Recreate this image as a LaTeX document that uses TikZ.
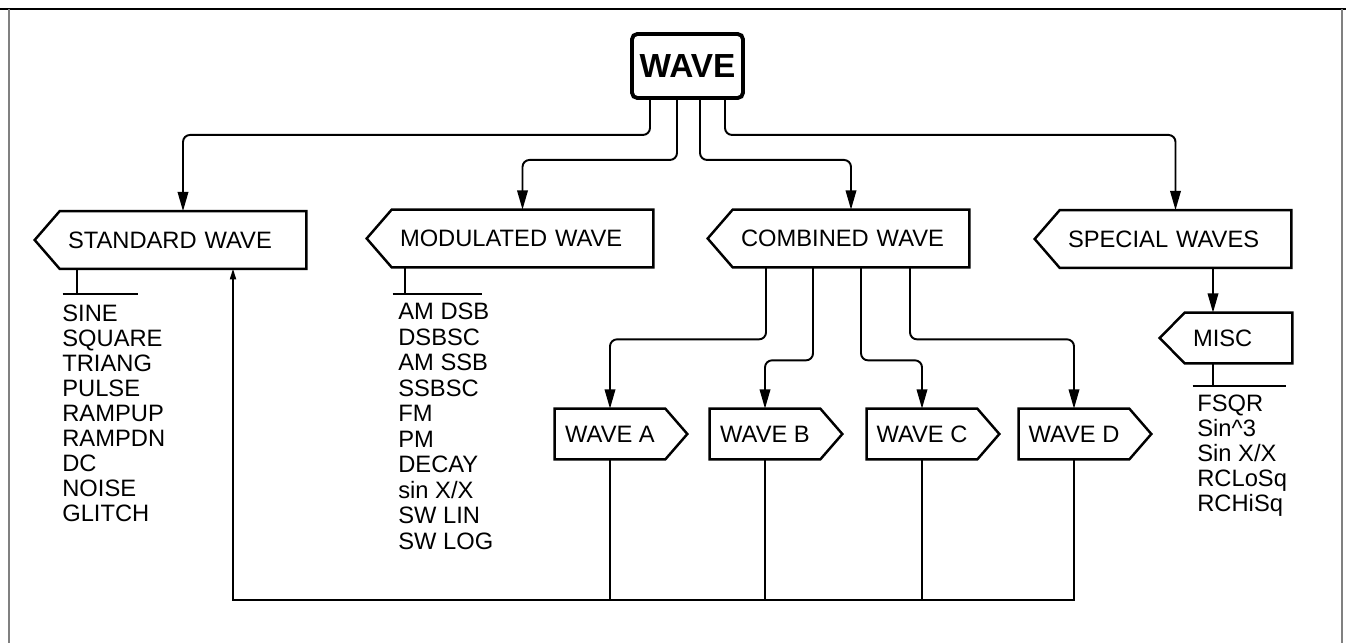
\documentclass[tikz,border=0pt]{standalone}
\usepackage{fontspec}
\setmainfont{Liberation Sans}
\usetikzlibrary{positioning,arrows.meta}

% outline with the point on the left / right side of a body node
\newcommand{\leftpoint}[1]{\draw[line width=1.4pt] (#1.north west) -- (#1.north east) -- (#1.south east) -- (#1.south west) -- ([xshift=-0.5cm]#1.west) -- cycle;}
\newcommand{\rightpoint}[1]{\draw[line width=1.4pt] (#1.north east) -- (#1.north west) -- (#1.south west) -- (#1.south east) -- ([xshift=0.44cm]#1.east) -- cycle;}

\begin{document}
\begin{tikzpicture}[x=0.02cm, y=-0.02cm,
  lbox/.style={inner xsep=0.16cm, inner ysep=0pt, align=left, text width=#1, minimum height=1.14cm, font=\fontsize{13.5}{14.2}\selectfont},
  rbox/.style={inner sep=0pt, minimum width=2.2cm, minimum height=1cm, font=\fontsize{13.5}{14.2}\selectfont},
  itemlist/.style={inner sep=0pt, align=left, anchor=north west, font=\fontsize{13.5}{#1}\selectfont},
  conn/.style={line width=1.1pt, rounded corners=4pt, -{Triangle[length=11pt,width=6pt]}},
  rule/.style={line width=1pt},
  busline/.style={line width=0.8pt}]
\useasboundingbox (0,0) rectangle (1346,643);

% frame
\draw[line width=1pt] (0,9) -- (1346,9);
\draw[gray, line width=0.6pt] (9,9) -- (9,643);
\draw[gray, line width=0.6pt] (1342,9) -- (1342,643);

\node[draw, rounded corners=3pt, line width=2.2pt, minimum width=2.22cm, minimum height=1.28cm, inner sep=0pt, font=\bfseries\fontsize{19}{20}\selectfont] (wave) at (687.5,66) {WAVE};

\node[lbox=4.6cm] (std) at (183,240) {STANDARD WAVE};
\node[lbox=4.9cm] (mod) at (522.5,238.5) {MODULATED WAVE};
\node[lbox=4.4cm] (comb) at (851,238.5) {COMBINED WAVE};
\node[lbox=4.3cm] (spec) at (1175.5,239) {SPECIAL WAVES};
\node[lbox=1.82cm, minimum height=1cm] (misc) at (1238.5,338) {MISC};
\leftpoint{std}
\leftpoint{mod}
\leftpoint{comb}
\leftpoint{spec}
\leftpoint{misc}

\node[rbox] (wa) at (610,434) {WAVE A};
\node[rbox] (wb) at (765,434) {WAVE B};
\node[rbox] (wc) at (922,434) {WAVE C};
\node[rbox] (wd) at (1074,434) {WAVE D};
\rightpoint{wa}
\rightpoint{wb}
\rightpoint{wc}
\rightpoint{wd}

\draw[conn] ([xshift=-0.75cm]wave.south) -- ++(0,35) -| (std.north);
\draw[conn] ([xshift=-0.21cm]wave.south) -- ++(0,60) -| (mod.north);
\draw[conn] ([xshift=0.25cm]wave.south) -- ++(0,60) -| (comb.north);
\draw[conn] ([xshift=0.75cm]wave.south) -- ++(0,35) -| (spec.north);

\draw[conn] ([xshift=-1.7cm]comb.south) -- ++(0,72) -| (wa.north);
\draw[conn] ([xshift=-0.76cm]comb.south) -- ++(0,93) -| (wb.north);
\draw[conn] ([xshift=0.2cm]comb.south) -- ++(0,93) -| (wc.north);
\draw[conn] ([xshift=1.18cm]comb.south) -- ++(0,72) -| (wd.north);

\draw[conn] ([xshift=0.75cm]spec.south) -- ([xshift=0.75cm]spec.south |- misc.north);

% lists
\draw[rule] ([xshift=0.34cm]std.south west) -- ++(0,25) ++(-14,0) -- ++(75,0);
\node[itemlist=14.2] (stdlist) at (62,305) {SINE\\SQUARE\\TRIANG\\PULSE\\RAMPUP\\RAMPDN\\DC\\NOISE\\GLITCH};
\draw[rule] ([xshift=0.26cm]mod.south west) -- ++(0,27) ++(-12,0) -- ++(89,0);
\node[itemlist=14.5] (modlist) at (398,303) {AM DSB\\DSBSC\\AM SSB\\SSBSC\\FM\\PM\\DECAY\\sin X/X\\SW LIN\\SW LOG};
\draw[rule] ([xshift=0.56cm]misc.south west) -- ++(0,23) ++(-20,0) -- ++(93,0);
\node[itemlist=14.2] (misclist) at (1197,395) {FSQR\\Sin\textasciicircum 3\\Sin X/X\\RCLoSq\\RCHiSq};

% return line
\coordinate (bus) at (233,600);
\draw[busline, -{Triangle[length=6pt,width=3.5pt]}] (wd.south) |- (bus) -- (bus |- std.south);
\draw[busline] (wa.south) -- (wa.south |- bus);
\draw[busline] (wb.south) -- (wb.south |- bus);
\draw[busline] (wc.south) -- (wc.south |- bus);
\end{tikzpicture}
\end{document}
